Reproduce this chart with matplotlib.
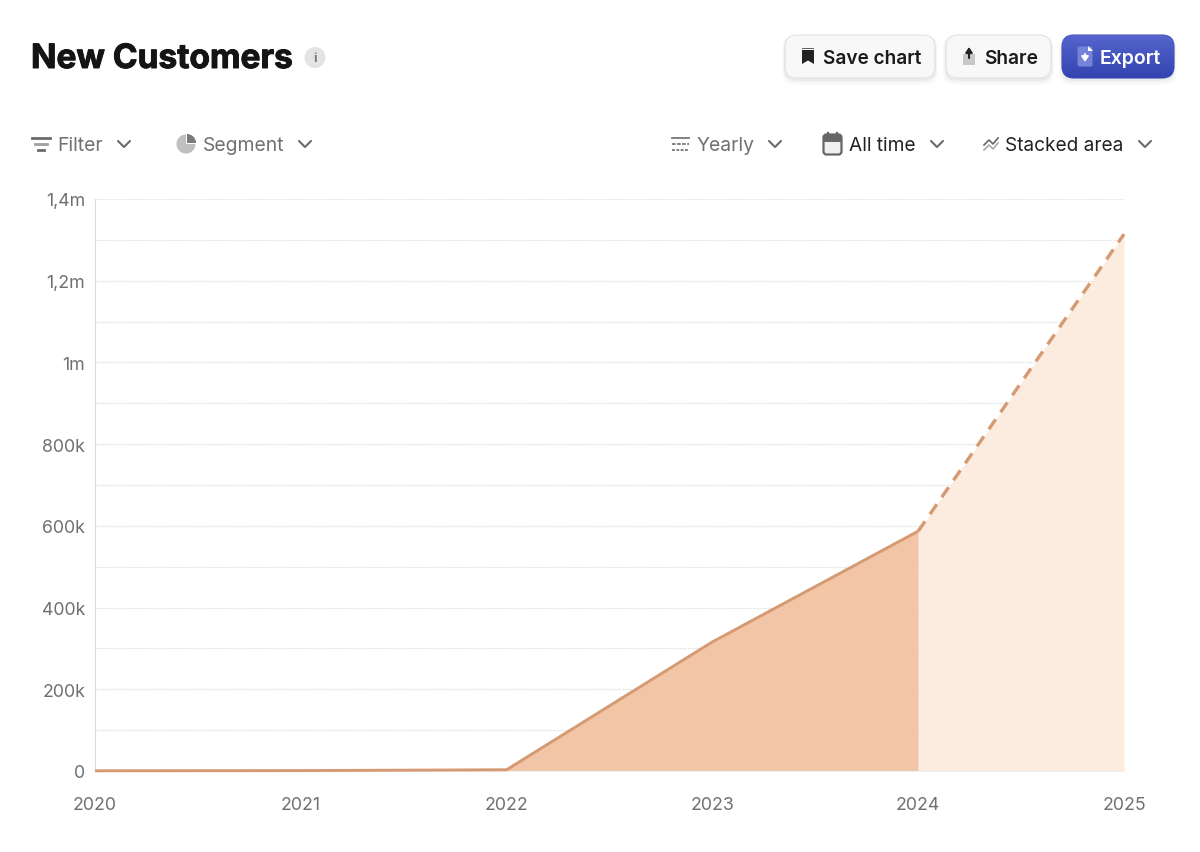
import numpy as np
import matplotlib.pyplot as plt
import matplotlib.patheffects as pe
from matplotlib.colors import LinearSegmentedColormap
from matplotlib.patches import FancyBboxPatch, Circle, Wedge, Rectangle, Polygon

plt.rcParams['font.family'] = ['Inter', 'DejaVu Sans']

# === DATA ===
years = [2020, 2021, 2022, 2023, 2024, 2025]
customers = [500, 1000, 3000, 316000, 587000, 1314000]
actual_years = years[:5]
actual_values = customers[:5]
forecast_years = years[4:]
forecast_values = customers[4:]
y_ticks = [0, 200000, 400000, 600000, 800000, 1000000, 1200000, 1400000]
y_minor = [100000, 300000, 500000, 700000, 900000, 1100000, 1300000]
y_labels = ["0", "200k", "400k", "600k", "800k", "1m", "1,2m", "1,4m"]

LINE = "#d59a72"
DARK_FILL = "#f2c5a7"
LIGHT_FILL = "#fcebdf"
GREY = "#707070"
W, H = 1200, 853

fig = plt.figure(figsize=(12, 8.53), dpi=100, facecolor="white")

# === CHART ===
ax = fig.add_axes([95 / W, (H - 772) / H, (1124 - 95) / W, 572 / H])
ax.set_xlim(2020, 2025)
ax.set_ylim(0, 1400000)
ax.fill_between(actual_years, actual_values, color=DARK_FILL, lw=0, zorder=2)
ax.fill_between(forecast_years, forecast_values, color=LIGHT_FILL, lw=0, zorder=2)
ax.plot(actual_years, actual_values, color=LINE, lw=2.1, zorder=3, clip_on=False,
        solid_capstyle="butt")
ax.plot(forecast_years, forecast_values, color=LINE, lw=2.4, zorder=3, clip_on=False,
        dashes=(3.6, 2.6))
for v in y_ticks[1:] + y_minor:
    ax.axhline(v, color="#dcdcdc", lw=0.9, ls=(0, (1, 1)), zorder=1)
for s in ["top", "right"]:
    ax.spines[s].set_visible(False)
ax.spines["left"].set_color("#dcdcdc")
ax.spines["bottom"].set_color("#f0f0f0")
ax.set_xticks(years)
ax.set_xticklabels(years)
ax.set_yticks(y_ticks)
ax.set_yticklabels(y_labels)
ax.tick_params(axis="y", length=0, pad=7, labelsize=12.8, labelcolor=GREY)
ax.tick_params(axis="x", length=0, pad=18, labelsize=12.8, labelcolor=GREY)

# === UI OVERLAY (pixel coordinates) ===
ui = fig.add_axes([0, 0, 1, 1], zorder=5)
ui.set_xlim(0, W)
ui.set_ylim(H, 0)
ui.axis("off")
ui.patch.set_alpha(0)


def chevron(x, y, color="#6a6a6a"):
    ui.plot([x - 6, x, x + 6], [y - 3, y + 3, y - 3], color=color, lw=1.5,
            solid_capstyle="round", solid_joinstyle="round")


def button(x0, x1, y0, y1, face, edge):
    for i, a in [(3, 0.015), (2, 0.025), (1, 0.04)]:
        ui.add_patch(FancyBboxPatch((x0 - i + 10, y0 + 10 + 1), x1 - x0 + 2 * i - 20, y1 - y0 + 2 * i - 20,
                                    boxstyle="round,pad=10,rounding_size=12", fc="black", ec="none", alpha=a))
    box = FancyBboxPatch((x0 + 10, y0 + 10), x1 - x0 - 20, y1 - y0 - 20,
                         boxstyle="round,pad=10,rounding_size=12", fc=face, ec=edge, lw=0.8)
    ui.add_patch(box)
    return box


# title
ui.text(31, 60, "New Customers", fontsize=24.1, fontweight="bold", color="#141414", va="center", ha="left",
        path_effects=[pe.withStroke(linewidth=0.7, foreground="#141414")])
ui.add_patch(Circle((315, 58.5), 10.5, fc="#e4e4e4", ec="none"))
ui.text(315, 59, "i", fontsize=9, fontweight="bold", color="#777777", va="center", ha="center")

# buttons
button(785, 935, 36, 79, "#f8f8f8", "#e2e2e2")
button(946, 1051, 36, 79, "#f8f8f8", "#e2e2e2")
export = button(1062, 1174, 36, 79, "#3f4fbb", "#3f4fbb")
grad = np.linspace(0, 1, 64).reshape(-1, 1)
im = ui.imshow(grad, extent=(1062, 1174, 79, 36), aspect="auto", zorder=3,
               cmap=LinearSegmentedColormap.from_list("btn", ["#5565cd", "#3344b0"]))
im.set_clip_path(export)
ui.set_xlim(0, W)
ui.set_ylim(H, 0)

ui.text(823, 58.5, "Save chart", fontsize=13.7, fontweight="semibold", color="#1a1a1a", va="center")
ui.text(984, 58.5, "Share", fontsize=13.8, fontweight="semibold", color="#1a1a1a", va="center")
ui.text(1100, 58.5, "Export", fontsize=14, fontweight="semibold", color="white", va="center", zorder=4)

# bookmark icon
ui.add_patch(Polygon([(802, 51), (814, 51), (814, 65), (808, 61.5), (802, 65)], fc="#222222", ec="none"))
ui.add_patch(Rectangle((802, 48.5), 12, 1.5, fc="#666666", ec="none"))
# share icon
ui.add_patch(Rectangle((963, 55), 12, 11, fc="#c8c8c8", ec="none"))
ui.annotate("", xy=(969, 48), xytext=(969, 59), arrowprops=dict(arrowstyle="-|>,head_width=0.2,head_length=0.3", color="#222222", lw=1.5, shrinkA=0, shrinkB=0))
# export icon
ui.add_patch(FancyBboxPatch((1079, 49), 12, 17, boxstyle="round,pad=1.5,rounding_size=2", fc="#7583d8", ec="none", zorder=4))
ui.add_patch(Polygon([(1088, 47), (1093, 52), (1088, 52)], fc="white", ec="none", zorder=4))
ui.annotate("", xy=(1085, 63), xytext=(1085, 55), zorder=5, arrowprops=dict(arrowstyle="-|>,head_width=0.2,head_length=0.3", color="white", lw=1.5, shrinkA=0, shrinkB=0))

# toolbar left
for y, x0, x1, c in [(138.5, 32, 50, "#6a6a6a"), (144.5, 35, 47, "#a0a0a0"), (150.5, 38, 44, "#6a6a6a")]:
    ui.plot([x0, x1], [y, y], color=c, lw=2)
ui.text(57, 145.5, "Filter", fontsize=13.9, color=GREY, va="center")
chevron(124, 145)
ui.add_patch(Wedge((186, 145), 9.5, 0, 270, fc="#bfbfbf", ec="none"))
ui.add_patch(Wedge((187, 144), 9, 270, 360, fc="#7a7a7a", ec="none"))
ui.text(203, 145.5, "Segment", fontsize=13.9, color=GREY, va="center")
chevron(305, 145)

# toolbar right
for y, c, ls in [(138.5, "#777777", "-"), (144.5, "#777777", (0, (2, 0.8))), (150.5, "#777777", (0, (1.6, 0.8)))]:
    ui.plot([672, 689], [y, y], color=c, lw=1.3, ls=ls)
ui.text(697, 145.5, "Yearly", fontsize=13.9, color=GREY, va="center")
chevron(775, 145)
ui.add_patch(FancyBboxPatch((825, 137), 15, 17, boxstyle="round,pad=1.5,rounding_size=3", fc="#f0f0f0", ec="#666666", lw=1.6))
ui.add_patch(Rectangle((824, 136), 17, 6.5, fc="#666666", ec="none"))
ui.plot([828, 828], [134, 137], color="#666666", lw=1.6)
ui.plot([837, 837], [134, 137], color="#666666", lw=1.6)
ui.text(849, 145.5, "All time", fontsize=13.8, color="#222222", va="center")
chevron(937, 145)
ui.plot([984, 989, 993, 998], [146, 141, 145, 139], color="#666666", lw=1.2)
ui.plot([984, 989, 993, 998], [151, 146, 150, 144], color="#aaaaaa", lw=1.2)
ui.text(1005, 145.5, "Stacked area", fontsize=13.7, color="#222222", va="center")
chevron(1145, 145)

fig.savefig("out.png", dpi=100, facecolor="white")
